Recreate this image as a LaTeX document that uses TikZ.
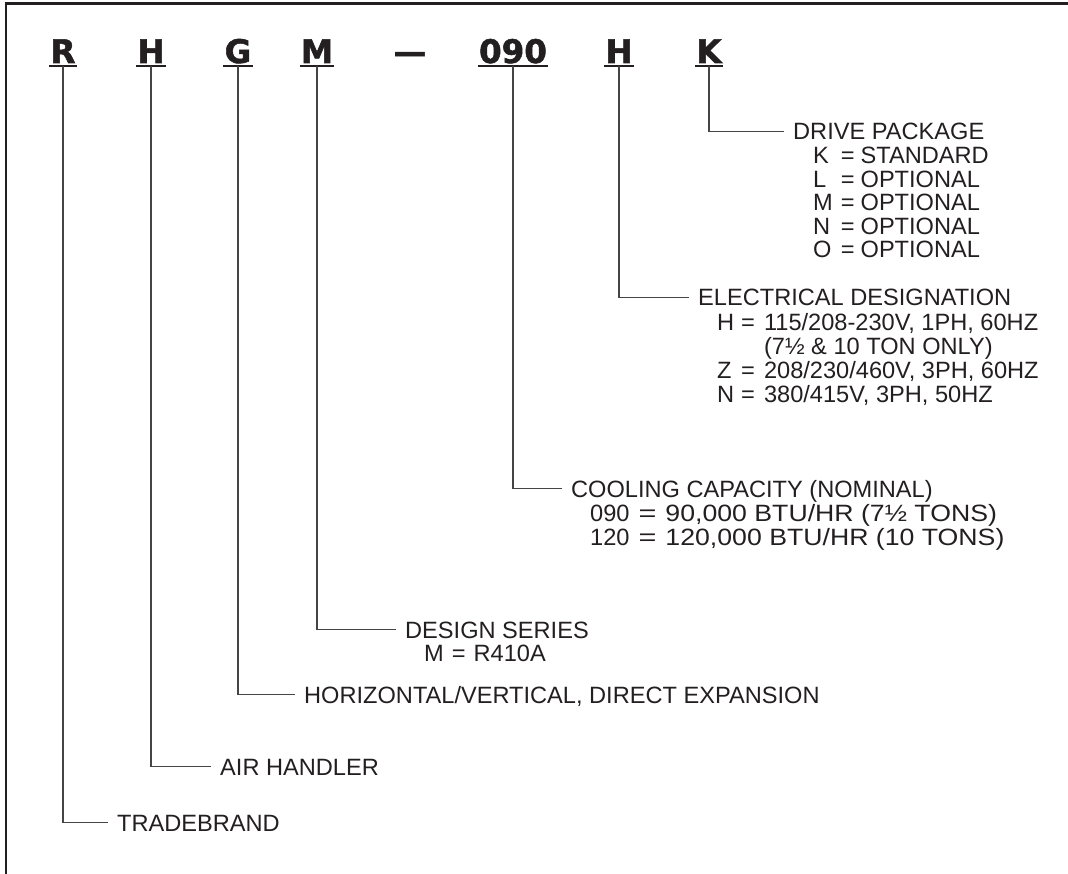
\documentclass[tikz,border=0pt]{standalone}
\usepackage{fontspec}
\usepackage{array}
\setmainfont{Liberation Sans}
\newfontface\codeface{DejaVu Sans Bold}[FakeBold=1.6]
\usetikzlibrary{calc}
\definecolor{printink}{HTML}{231F20}
\definecolor{leadgray}{HTML}{454545}
\newcommand{\descfont}{\fontsize{23.6}{23.5}\selectfont}
\newcommand{\codefont}{\codeface\fontsize{32.5}{33}\selectfont}

\begin{document}
\begin{tikzpicture}[x=1pt,y=-1pt,
  code/.style={font=\codefont,text=printink,inner xsep=1pt,inner ysep=0pt,text depth=0pt,anchor=base},
  uline/.style={printink,line width=2.6pt},
  lead/.style={leadgray,line width=1.2pt},
  desc/.style={font=\descfont,text=printink,anchor=base west,inner xsep=9pt,inner ysep=0pt}]
\useasboundingbox (0,0) rectangle (1068,874);
\draw[printink,line width=2.2pt] (6,874)--(6,3.5)--(1068,3.5);
% model number
\node[code] (cR) at (63,63) {R};
\node[code] (cH) at (151,63) {H};
\node[code] (cG) at (238,63) {G};
\node[code] (cM) at (317,63) {M};
\node[code] (dash) at (410,63) {—};
\node[code] (c090) at (513,63) {090};
\node[code] (cE) at (619,63) {H};
\node[code] (cK) at (709,63) {K};
\foreach \c in {cR,cH,cG,cM,c090,cE,cK}{\draw[uline] ([yshift=-3pt]\c.south west)--([yshift=-3pt]\c.south east);}
% descriptions
\node[desc] (dK) at (784,140) {\begin{tabular}[t]{@{}l@{\hspace{8pt}}c@{\hspace{6pt}}l@{}}
  \multicolumn{3}{@{}l@{}}{DRIVE PACKAGE}\\
  \hspace{20pt}K & = & STANDARD\\
  \hspace{20pt}L & = & OPTIONAL\\
  \hspace{20pt}M & = & OPTIONAL\\
  \hspace{20pt}N & = & OPTIONAL\\
  \hspace{20pt}O & = & OPTIONAL
\end{tabular}};
\node[desc] (dE) at (689,306) {\begin{tabular}[t]{@{}l@{\hspace{7pt}}c@{\hspace{9pt}}l@{}}
  \multicolumn{3}{@{}l@{}}{ELECTRICAL DESIGNATION}\\
  \hspace{19pt}H & = & 115/208-230V, 1PH, 60HZ\\
   & & (7½ \& 10 TON ONLY)\\
  \hspace{19pt}Z & = & 208/230/460V, 3PH, 60HZ\\
  \hspace{19pt}N & = & 380/415V, 3PH, 50HZ
\end{tabular}};
\node[desc] (dC) at (562,497) {\begin{tabular}[t]{@{}l@{\hspace{9pt}}>{\addfontfeatures{FakeStretch=1.3}}c@{\hspace{9pt}}>{\addfontfeatures{FakeStretch=1.13}}l@{}}
  \multicolumn{3}{@{}l@{}}{COOLING CAPACITY (NOMINAL)}\\
  \hspace{19pt}090 & = & 90,000 BTU/HR (7½ TONS)\\
  \hspace{19pt}120 & = & 120,000 BTU/HR (10 TONS)
\end{tabular}};
\node[desc] (dD) at (396,638) {\begin{tabular}[t]{@{}l@{\hspace{8pt}}c@{\hspace{8pt}}l@{}}
  \multicolumn{3}{@{}l@{}}{DESIGN SERIES}\\
  \hspace{19pt}M & = & R410A
\end{tabular}};
\node[desc] (dG) at (295,703) {HORIZONTAL/VERTICAL, DIRECT EXPANSION};
\node[desc] (dA) at (211,775) {AIR HANDLER};
\node[desc] (dT) at (108,831) {TRADEBRAND};
% leaders
\draw[lead] ([yshift=-3pt]cK.south) |- ([yshift=8.25pt]dK.base west);
\draw[lead] ([yshift=-3pt]cE.south) |- ([yshift=8.25pt]dE.base west);
\draw[lead] ([yshift=-3pt]c090.south) |- ([yshift=8.25pt]dC.base west);
\draw[lead] ([yshift=-3pt]cM.south) |- ([yshift=8.25pt]dD.base west);
\draw[lead] ([yshift=-3pt]cG.south) |- ([yshift=8.25pt]dG.base west);
\draw[lead] ([yshift=-3pt]cH.south) |- ([yshift=8.25pt]dA.base west);
\draw[lead] ([yshift=-3pt]cR.south) |- ([yshift=8.25pt]dT.base west);
\end{tikzpicture}
\end{document}
